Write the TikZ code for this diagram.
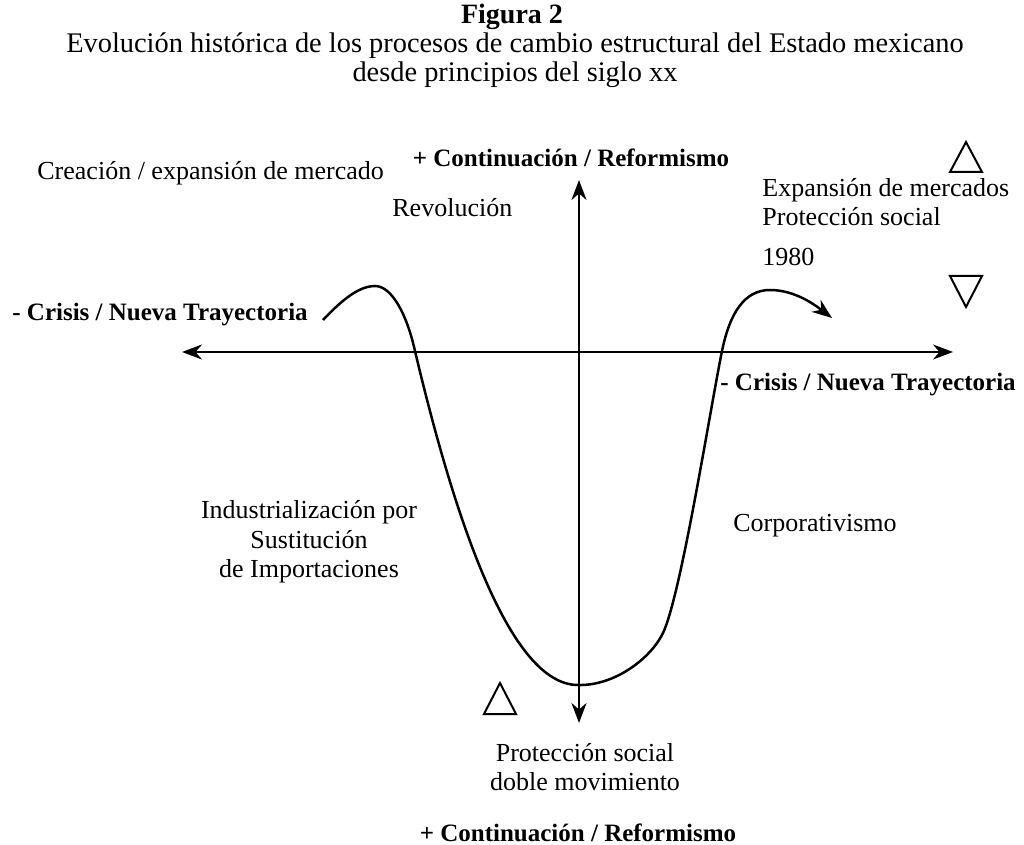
\documentclass[tikz,border=0pt]{standalone}
\usepackage{fontspec}
\setmainfont{Liberation Serif}
\usepackage{tikz}
\usetikzlibrary{arrows.meta,positioning,calc}

\begin{document}
\begin{tikzpicture}[x=0.5pt, y=-0.5pt,
    font=\fontsize{13}{14.75}\selectfont,
    txt/.style={inner sep=0pt, align=left},
    head/.style={inner sep=0pt, align=center, font=\fontsize{12.5}{14.75}\selectfont\bfseries},
    axis/.style={line width=1.25pt, {Stealth[length=10pt, width=7.5pt]}-{Stealth[length=10pt, width=7.5pt]}},
    path/.style={line width=1.25pt, -{Stealth[length=10pt, width=7.5pt]}},
    tri/.style={line width=1pt, line join=miter}]
    \useasboundingbox (0,0) rectangle (1024,845);

    % title
    \node[head, font=\fontsize{14}{14}\selectfont\bfseries] (fig) at (512,17) {Figura 2};
    \node[txt, align=center, font=\fontsize{14.2}{14.5}\selectfont] (sub) at (515,60) {Evolución histórica de los procesos de cambio estructural del Estado mexicano\\desde principios del siglo xx};

    % axes
    \coordinate (ytop) at (579,180);
    \coordinate (ybot) at (579,723);
    \coordinate (xleft) at (182,352);
    \coordinate (xright) at (953,352);
    \draw[axis] (xleft) -- (xright);
    \draw[axis] (ytop) -- (ybot);

    % axis labels
    \node[head] (contTop) at (571,158) {+ Continuación / Reformismo};
    \node[head, anchor=west] (crisisL) at (12,315) {- Crisis / Nueva Trayectoria};
    \node[head, anchor=west] (crisisR) at (720,385) {- Crisis / Nueva Trayectoria};
    \node[head] (contBot) at (578,833) {+ Continuación / Reformismo};

    % stage labels
    \node[txt, anchor=west] (creacion) at (37,173) {Creación / expansión de mercado};
    \node[txt, anchor=west] (revol) at (392,208) {Revolución};
    \node[txt, anchor=west] (expan) at (762,202) {Expansión de mercados\\Protección social};
    \node[txt, anchor=west] (anio) at (762,257) {1980};
    \node[txt, align=center] (isi) at (309,542) {Industrialización por\\Sustitución\\de Importaciones};
    \node[txt, anchor=west] (corp) at (733,526) {Corporativismo};
    \node[txt, align=center] (proteccion) at (585,767) {Protección social\\doble movimiento};

    % trajectory
    \coordinate (start) at (323,320);
    \coordinate (peakL) at (375,286);
    \coordinate (low) at (578,685);
    \coordinate (peakR) at (770,290);
    \coordinate (finish) at (832,318);
    \draw[path] (start) .. controls (340,302) and (358,286) .. (peakL)
        .. controls (392,286) and (407,315) .. (415,351)
        .. controls (455,520) and (510,685) .. (low)
        .. controls (615,686) and (651,658) .. (663,633)
        .. controls (681,595) and (710,410) .. (722,351)
        .. controls (730,312) and (745,290) .. (peakR)
        .. controls (795,290) and (815,305) .. (finish);

    % triangles
    \draw[tri] (966,142) -- (982,172) -- (950,172) -- cycle;
    \draw[tri] (950,276) -- (982,276) -- (966,307) -- cycle;
    \draw[tri] (500,683) -- (516,714) -- (484,714) -- cycle;

\end{tikzpicture}
\end{document}
